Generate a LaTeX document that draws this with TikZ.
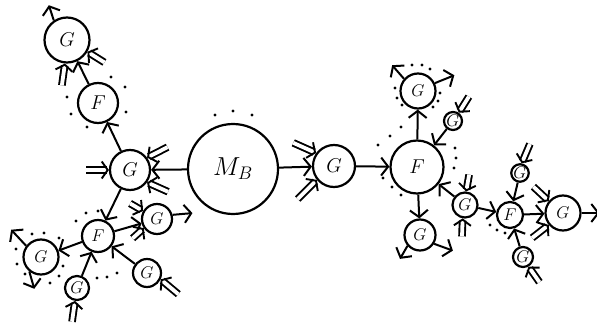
\RequirePackage{fix-cm}
\documentclass[tikz,border=0pt]{standalone}
\usepackage{xcolor}
\usepackage{tikz}
\usetikzlibrary{arrows.meta}

\tikzset{
  blob/.style={circle, draw, line width=2.2pt, inner sep=0pt, minimum size=#1, font=\fontsize{17}{17}\selectfont},
  bigfont/.style={font=\fontsize{20}{20}\selectfont},
  prop/.style={line width=2pt, -{Straight Barb[length=7pt,width=18pt]}},
  leg/.style={line width=1.9pt, double, double distance=3.8pt, {Straight Barb[length=6pt,width=17pt]}-},
}

\begin{document}
\begin{tikzpicture}[x=1pt, y=1pt]
    \useasboundingbox (0,-329) rectangle (597,0);
    % central vertex
    \node[blob=90, font=\fontsize{26}{26}\selectfont] (MB) at (233,-169) {$M_B$};
    % left branch
    \node[blob=40, bigfont] (Gl) at (130,-170) {$G$};
    \node[blob=40, bigfont] (Fu) at (98,-103) {$F$};
    \node[blob=45, bigfont] (Gt) at (67,-40) {$G$};
    \node[blob=32] (Fd) at (98,-236) {$F$};
    \node[blob=30] (Ga) at (157,-219) {$G$};
    \node[blob=35] (Gb) at (41,-257) {$G$};
    \node[blob=24] (Gc) at (77,-288) {$G$};
    \node[blob=28] (Gd) at (147,-273) {$G$};
    % right branch
    \node[blob=42, bigfont] (Gr) at (334,-166) {$G$};
    \node[blob=53, bigfont] (Fr) at (417,-167) {$F$};
    \node[blob=35] (Ge) at (418,-91) {$G$};
    \node[blob=18] (Gf) at (453,-121) {$G$};
    \node[blob=25] (Gg) at (465,-205) {$G$};
    \node[blob=31] (Gh) at (420,-235) {$G$};
    \node[blob=26] (Fs) at (510,-215) {$F$};
    \node[blob=17] (Gi) at (520,-173) {$G$};
    \node[blob=20] (Gj) at (523,-257) {$G$};
    \node[blob=35] (Gk) at (563,-213) {$G$};

    % propagators
    \draw[prop] (MB) -- (Gl);
    \draw[prop] (Gl) -- (Fu);
    \draw[prop] (Fu) -- (Gt);
    \draw[prop] (Gl) -- (Fd);
    \draw[prop] (Fd) -- (Ga);
    \draw[prop] (Fd) -- (Gb);
    \draw[prop] (Gc) -- (Fd);
    \draw[prop] (Gd) -- (Fd);
    \draw[prop] (MB) -- (Gr);
    \draw[prop] (Gr) -- (Fr);
    \draw[prop] (Fr) -- (Ge);
    \draw[prop] (Gf) -- (Fr);
    \draw[prop] (Gg) -- (Fr);
    \draw[prop] (Fr) -- (Gh);
    \draw[prop] (Gg) -- (Fs);
    \draw[prop] (Gi) -- (Fs);
    \draw[prop] (Gj) -- (Fs);
    \draw[prop] (Fs) -- (Gk);

    % outgoing lines
    \draw[prop] (Gt.124) -- ++(108:16);
    \draw[prop] (Ga.15) -- ++(5:20);
    \draw[prop] (Gb.143) -- ++(133:22);
    \draw[prop] (Gb.231) -- ++(286:18);
    \draw[prop] (Ge.139) -- ++(131:18);
    \draw[prop] (Ge.25) -- ++(22:21);
    \draw[prop] (Gh.221) -- ++(240:15);
    \draw[prop] (Gh.-32) -- ++(-20:20);
    \draw[prop] (Gk.0) -- ++(0:18);

    % incoming double legs
    \draw[leg] (Gt.265) -- ++(262:22);
    \draw[leg] (Gt.-30) -- ++(-32:20);
    \draw[leg] (Gl.180) -- ++(180:23);
    \draw[leg] (Gl.36) -- ++(27:23);
    \draw[leg] (Gl.-36) -- ++(-24:23);
    \draw[leg] (Ga.150) -- ++(150:15);
    \draw[leg] (Ga.215) -- ++(222:15);
    \draw[leg] (Gc.-99) -- ++(-98:21);
    \draw[leg] (Gd.-25) -- ++(-40:23);
    \draw[leg] (Gr.144) -- ++(156:25);
    \draw[leg] (Gr.219) -- ++(225:27);
    \draw[leg] (Gf.55) -- ++(58:19);
    \draw[leg] (Gg.85) -- ++(80:17);
    \draw[leg] (Gg.-100) -- ++(-92:18);
    \draw[leg] (Gi.80) -- ++(67:21);
    \draw[leg] (Gj.-60) -- ++(-55:19);
    \draw[leg] (Gk.140) -- ++(137:21);
    \draw[leg] (Gk.220) -- ++(218:21);

    % dots
    \fill (215,-115) circle (1.7) (233,-111) circle (1.7) (252,-115) circle (1.7);
    \fill (111,-77) circle (1.7) (125,-87) circle (1.7) (126,-112) circle (1.7);
    \fill (87,-127) circle (1.7) (71,-114) circle (1.7) (67,-97) circle (1.7);
    \fill (76,-221) circle (1.7) (86,-213) circle (1.7) (98,-211) circle (1.7);
    \fill (97,-278) circle (1.7) (107,-277) circle (1.7) (117,-273) circle (1.7);
    \fill (32,-234) circle (1.7) (44,-233) circle (1.7) (59,-238) circle (1.7);
    \fill (16,-249) circle (1.7) (17,-264) circle (1.7) (25,-274) circle (1.7);
    \fill (50,-283) circle (1.7) (59,-276) circle (1.7) (63,-266) circle (1.7);
    \fill (412,-65) circle (1.7) (422,-65) circle (1.7) (430,-69) circle (1.7);
    \fill (395,-88) circle (1.7) (397,-98) circle (1.7) (402,-105) circle (1.7);
    \fill (440,-93) circle (1.7) (438,-101) circle (1.7) (433,-107) circle (1.7);
    \fill (378,-145) circle (1.7) (390,-136) circle (1.7) (401,-127) circle (1.7);
    \fill (455,-148) circle (1.7) (456,-158) circle (1.7) (454,-168) circle (1.7);
    \fill (383,-178) circle (1.7) (392,-187) circle (1.7) (401,-195) circle (1.7);
    \fill (490,-225) circle (1.7) (497,-230) circle (1.7) (505,-233) circle (1.7);
\end{tikzpicture}
\end{document}
